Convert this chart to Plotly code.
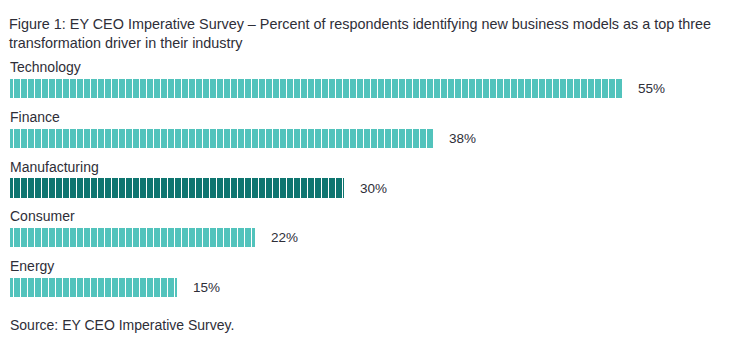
import plotly.graph_objects as go

categories = ["Technology", "Finance", "Manufacturing", "Consumer", "Energy"]
values = [55, 38, 30, 22, 15]
value_labels = ["55%", "38%", "30%", "22%", "15%"]
bar_colors = ["#52C3BC", "#52C3BC", "#0E7570", "#52C3BC", "#52C3BC"]

title_text = ("Figure 1: EY CEO Imperative Survey \u2013 Percent of respondents identifying new business models as a top three"
              "<br>transformation driver in their industry")
source_text = "Source: EY CEO Imperative Survey."

FONT = "Liberation Sans, Arial, sans-serif"
TEXT = "#2E2E38"

ypos = list(range(len(categories)))

fig = go.Figure()
fig.add_trace(go.Bar(
    x=values, y=ypos, orientation="h", width=0.39,
    marker=dict(color="#52C3BC", line=dict(width=0),
                pattern=dict(shape="|", bgcolor=bar_colors, fgcolor="white", size=7,
                             solidity=1 / 7, fillmode="replace")),
    hoverinfo="skip",
))

annotations = []
for i, (c, v, lab) in enumerate(zip(categories, values, value_labels)):
    annotations.append(dict(x=0, xref="x", y=i - 0.43, yref="y", text=c, showarrow=False, xshift=-2,
                            xanchor="left", yanchor="middle", font=dict(size=14, color=TEXT, family=FONT)))
    annotations.append(dict(x=v, xref="x", y=i, yref="y", text=lab, showarrow=False,
                            xanchor="left", yanchor="middle", xshift=14,
                            font=dict(size=13.5, color=TEXT, family=FONT)))

annotations.append(dict(x=0, xref="paper", y=(323 - 325) / 273, yref="paper", text=source_text,
                        showarrow=False, xanchor="left", yanchor="middle", xshift=-2,
                        font=dict(size=14, color=TEXT, family=FONT)))

fig.update_layout(
    width=751, height=343,
    margin=dict(l=10, r=0, t=50, b=20),
    paper_bgcolor="white", plot_bgcolor="white",
    showlegend=False,
    title=dict(text=title_text, x=9 / 751, xanchor="left", y=1 - 29 / 343, yanchor="middle",
               yref="container", font=dict(size=14.4, color=TEXT, family=FONT)),
    xaxis=dict(range=[0, 741 / 11.12], visible=False, fixedrange=True),
    yaxis=dict(range=[4.713, -0.774], visible=False, fixedrange=True),
    annotations=annotations,
    bargap=0,
)

fig.write_html("out.html")
